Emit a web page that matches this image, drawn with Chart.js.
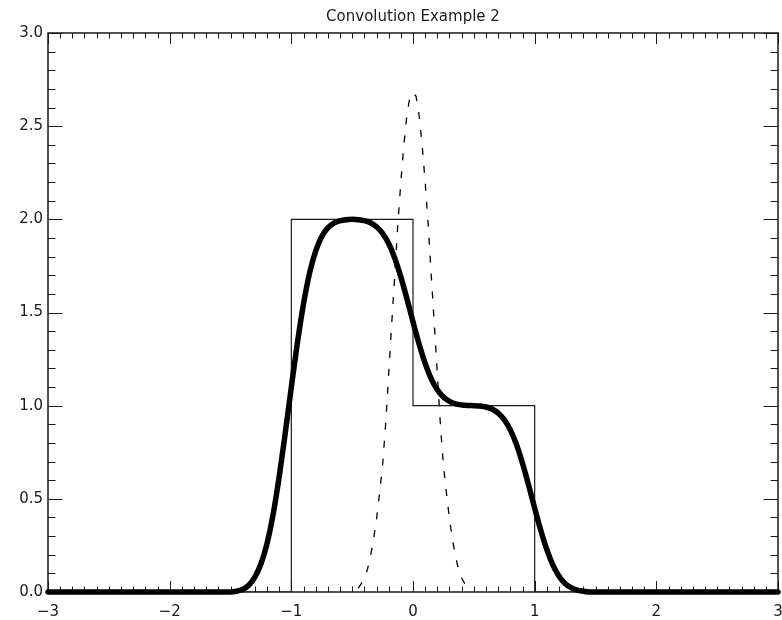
<!DOCTYPE html>
<html>
<head>
<meta charset="utf-8">
<title>Convolution Example 2</title>
<script src="https://cdn.jsdelivr.net/npm/chart.js@4.4.1/dist/chart.umd.min.js"></script>
<style>
  html, body { margin: 0; padding: 0; background: #fff; }
  canvas { display: block; }
</style>
</head>
<body>
<canvas id="conv" width="782" height="620"></canvas>
<script>
const xTickLabels = ['\u22123', '\u22122', '\u22121', '0', '1', '2', '3'];
const yTickLabels = ['0.0', '0.5', '1.0', '1.5', '2.0', '2.5', '3.0'];

// box signal (thin solid)
const boxX = [-3, -1, -1, 0, 0, 1, 1, 3];
const boxY = [0, 0, 2, 2, 1, 1, 0, 0];

// smoothing kernel (dashed)
const kernelX = [-0.45, -0.425, -0.4, -0.375, -0.35, -0.325, -0.3, -0.275, -0.25, -0.225,
  -0.2, -0.175, -0.15, -0.125, -0.1, -0.075, -0.05, -0.025, 0,
  0.025, 0.05, 0.075, 0.1, 0.125, 0.15, 0.175, 0.2, 0.225, 0.25,
  0.275, 0.3, 0.325, 0.35, 0.375, 0.4, 0.425, 0.45];
const kernelY = [0.02, 0.045, 0.075, 0.12, 0.19, 0.28, 0.39, 0.53, 0.68, 0.90,
  1.17, 1.44, 1.70, 1.97, 2.20, 2.40, 2.56, 2.66, 2.68,
  2.66, 2.56, 2.40, 2.20, 1.97, 1.70, 1.44, 1.17, 0.90, 0.68,
  0.53, 0.39, 0.28, 0.19, 0.12, 0.075, 0.045, 0.02];

// convolved result (thick)
const convX = [-3, -1.5, -1.45, -1.4, -1.35, -1.3, -1.25, -1.2, -1.15, -1.1, -1.05,
  -1, -0.95, -0.9, -0.85, -0.8, -0.75, -0.7, -0.65, -0.6, -0.55,
  -0.5, -0.45, -0.4, -0.35, -0.3, -0.25, -0.2, -0.15, -0.1, -0.05,
  0, 0.05, 0.1, 0.15, 0.2, 0.25, 0.3, 0.35, 0.4, 0.45,
  0.5, 0.55, 0.6, 0.65, 0.7, 0.75, 0.8, 0.85, 0.9, 0.95,
  1, 1.05, 1.1, 1.15, 1.2, 1.25, 1.3, 1.35, 1.4, 1.45, 1.5, 3];
const convY = [0, 0, 0.004, 0.014, 0.036, 0.080, 0.150, 0.260, 0.416, 0.618, 0.852,
  1.100, 1.338, 1.546, 1.712, 1.830, 1.908, 1.954, 1.980, 1.992, 1.998,
  2.000, 1.998, 1.993, 1.982, 1.960, 1.925, 1.870, 1.792, 1.691, 1.574,
  1.450, 1.331, 1.227, 1.144, 1.085, 1.046, 1.023, 1.010, 1.004, 1.001,
  1.000, 0.998, 0.993, 0.982, 0.960, 0.925, 0.870, 0.792, 0.691, 0.574,
  0.450, 0.331, 0.227, 0.144, 0.085, 0.046, 0.023, 0.010, 0.004, 0, 0, 0];

const pts = (xs, ys) => xs.map((x, i) => ({ x, y: ys[i] }));
const FONT = { family: 'DejaVu Sans', size: 15, weight: 'normal' };
const INK = '#1a1a1a';

// plot box with inward major/minor ticks on all four sides
const frame = {
  id: 'frame',
  beforeDatasetsDraw(chart) {
    const { ctx, chartArea: a, scales: { x, y } } = chart;
    ctx.save();
    ctx.strokeStyle = INK;
    ctx.lineWidth = 1;
    ctx.beginPath();
    for (let i = -30; i <= 30; i++) {
      const px = Math.round(x.getPixelForValue(i / 10)) + 0.5;
      const len = i % 10 === 0 ? 11 : 5.5;
      ctx.moveTo(px, a.bottom); ctx.lineTo(px, a.bottom - len);
      ctx.moveTo(px, a.top); ctx.lineTo(px, a.top + len);
    }
    for (let j = 0; j <= 30; j++) {
      const py = Math.round(y.getPixelForValue(j / 10)) + 0.5;
      const len = j % 5 === 0 ? 14.5 : 7.5;
      ctx.moveTo(a.left, py); ctx.lineTo(a.left + len, py);
      ctx.moveTo(a.right, py); ctx.lineTo(a.right - len, py);
    }
    ctx.stroke();
    ctx.lineWidth = 1.5;
    ctx.strokeRect(a.left, a.top, a.right - a.left, a.bottom - a.top);
    ctx.restore();
  }
};

new Chart(document.getElementById('conv'), {
  type: 'line',
  data: {
    datasets: [
      {
        data: pts(convX, convY),
        borderColor: '#000',
        borderWidth: 5.5,
        borderJoinStyle: 'round',
        borderCapStyle: 'round',
        cubicInterpolationMode: 'monotone',
        pointRadius: 0,
        clip: false,
        order: 0
      },
      {
        data: pts(boxX, boxY),
        borderColor: INK,
        borderWidth: 1.2,
        pointRadius: 0,
        order: 1
      },
      {
        data: pts(kernelX, kernelY),
        borderColor: '#000',
        borderWidth: 1.3,
        borderDash: [7, 11],
        pointRadius: 0,
        order: 2
      }
    ]
  },
  options: {
    responsive: false,
    animation: false,
    layout: { padding: { left: 0, right: 4, top: 0, bottom: 0 } },
    plugins: {
      legend: { display: false },
      tooltip: { enabled: false },
      title: {
        display: true,
        text: 'Convolution Example 2',
        fullSize: false,
        color: INK,
        font: FONT,
        padding: { top: 8, bottom: 7 }
      }
    },
    scales: {
      x: {
        type: 'linear',
        min: -3,
        max: 3,
        afterFit(s) { s.height = 28; s.paddingLeft = 0; s.paddingRight = 0; },
        grid: { display: false, drawTicks: false },
        border: { display: false },
        ticks: {
          stepSize: 1,
          padding: 11,
          color: INK,
          font: FONT,
          maxRotation: 0,
          callback: v => xTickLabels[Math.round(v + 3)]
        }
      },
      y: {
        type: 'linear',
        min: 0,
        max: 3,
        afterFit(s) { s.width = 48; s.paddingTop = 0; s.paddingBottom = 0; },
        grid: { display: false, drawTicks: false },
        border: { display: false },
        ticks: {
          stepSize: 0.5,
          padding: 5,
          color: INK,
          font: FONT,
          callback: v => yTickLabels[Math.round(v * 2)]
        }
      }
    }
  },
  plugins: [frame]
});
</script>
</body>
</html>
